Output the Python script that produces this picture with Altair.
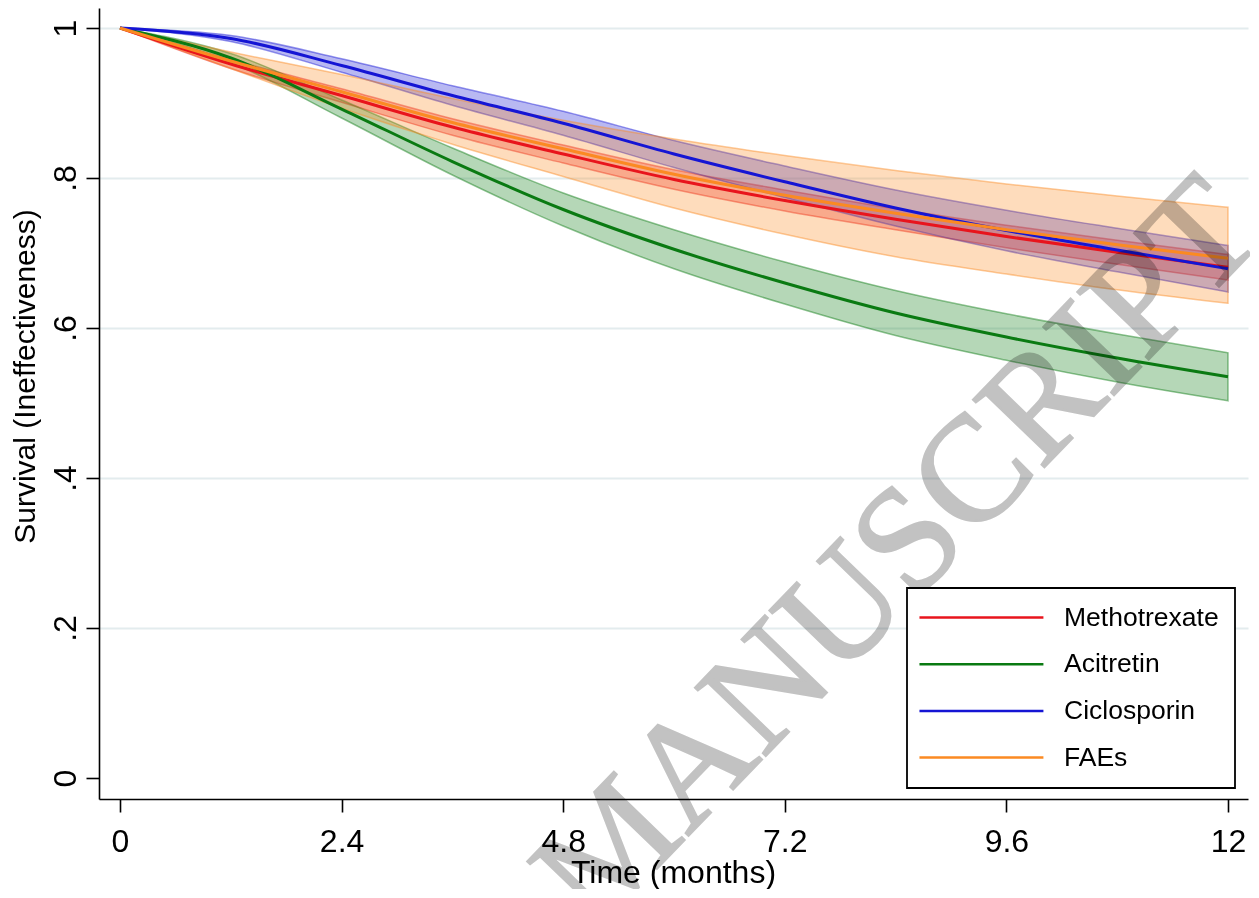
import altair as alt
import pandas as pd

# ---- data ----
time = [0, 1.2, 2.4, 3.6, 4.8, 6.0, 7.2, 8.4, 9.6, 10.8, 12.0]
drugs = ["Methotrexate", "Acitretin", "Ciclosporin", "FAEs"]
line_colors = ["#e8141c", "#0a7a12", "#1515d4", "#fb8a22"]

mtx_est = [1.000, 0.952, 0.910, 0.868, 0.832, 0.798, 0.770, 0.745, 0.722, 0.701, 0.681]
mtx_lo = [1.000, 0.946, 0.901, 0.857, 0.820, 0.785, 0.756, 0.731, 0.707, 0.685, 0.664]
mtx_hi = [1.000, 0.958, 0.919, 0.879, 0.844, 0.811, 0.784, 0.759, 0.737, 0.717, 0.698]

aci_est = [1.000, 0.960, 0.892, 0.822, 0.758, 0.705, 0.660, 0.620, 0.588, 0.560, 0.535]
aci_lo = [1.000, 0.954, 0.880, 0.804, 0.736, 0.679, 0.632, 0.590, 0.557, 0.528, 0.503]
aci_hi = [1.000, 0.966, 0.904, 0.840, 0.780, 0.731, 0.688, 0.650, 0.619, 0.592, 0.567]

cic_est = [1.000, 0.986, 0.950, 0.910, 0.873, 0.832, 0.795, 0.760, 0.730, 0.704, 0.679]
cic_lo = [1.000, 0.982, 0.941, 0.897, 0.857, 0.814, 0.774, 0.736, 0.703, 0.675, 0.648]
cic_hi = [1.000, 0.990, 0.959, 0.923, 0.889, 0.850, 0.816, 0.784, 0.757, 0.733, 0.710]

fae_est = [1.000, 0.956, 0.915, 0.874, 0.839, 0.805, 0.777, 0.753, 0.731, 0.711, 0.693]
fae_lo = [1.000, 0.946, 0.893, 0.845, 0.802, 0.760, 0.725, 0.695, 0.672, 0.651, 0.633]
fae_hi = [1.000, 0.968, 0.938, 0.906, 0.877, 0.852, 0.830, 0.810, 0.792, 0.776, 0.761]

x_ticks = [0, 2.4, 4.8, 7.2, 9.6, 12]
y_ticks = [0, 0.2, 0.4, 0.6, 0.8, 1]

series = {
    "Methotrexate": (mtx_est, mtx_lo, mtx_hi),
    "Acitretin": (aci_est, aci_lo, aci_hi),
    "Ciclosporin": (cic_est, cic_lo, cic_hi),
    "FAEs": (fae_est, fae_lo, fae_hi),
}
rows = []
for i, d in enumerate(drugs):
    est, lo, hi = series[d]
    for t, e, l, h in zip(time, est, lo, hi):
        rows.append({"drug": d, "order": i, "t": t, "est": e, "lo": l, "hi": h})
df = pd.DataFrame(rows)

FONT = "Liberation Sans"

xscale = alt.Scale(domain=[-0.2274, 12.2166], nice=False, zero=False)
yscale = alt.Scale(domain=[-0.028, 1.0267], nice=False, zero=False)

xaxis = alt.Axis(
    values=x_ticks, format=".1~f", title="Time (months)", grid=False,
    domainColor="black", domainWidth=1.6, tickColor="black", tickWidth=1.6,
    tickSize=13, labelFont=FONT, labelFontSize=32, labelColor="black",
    labelBaseline="alphabetic", labelPadding=39, labelFlush=False,
    labelOverlap=False, titleFont=FONT, titleFontSize=32,
    titleFontWeight="normal", titleColor="black", titleBaseline="alphabetic",
    titleY=83, titleX=574,
)
yaxis = alt.Axis(
    values=y_ticks,
    labelExpr="datum.value == 0 ? '0' : datum.value == 1 ? '1' : '.' + round(datum.value * 10)",
    title="Survival (Ineffectiveness)", grid=True,
    gridColor={"condition": {"test": "datum.value === 0", "value": "transparent"}, "value": "#e3ecee"},
    gridWidth=2,
    domainColor="black", domainWidth=1.6, tickColor="black", tickWidth=1.6,
    tickSize=13, labelFont=FONT, labelFontSize=32, labelColor="black",
    labelAngle=270, labelAlign="center", labelBaseline="alphabetic",
    labelPadding=11, labelFlush=False, labelOverlap=False,
    titleFont=FONT, titleFontSize=30, titleFontWeight="normal",
    titleColor="black", titleAngle=270, titleAlign="center",
    titleBaseline="alphabetic", titleX=-65, titleY=368,
)

color_scale = alt.Scale(domain=drugs, range=line_colors)
legend = alt.Legend(
    title=None, orient="none", legendX=808, legendY=580,
    symbolType="M-1.42,0H8.91", symbolSize=576, symbolStrokeWidth=2.5,
    symbolFillColor="transparent",
    labelFont=FONT, labelFontSize=26.5, labelColor="black",
    labelOffset=114, labelLimit=400, rowPadding=19.7, padding=16,
    strokeColor="black", fillColor="white",
)

bands = alt.Chart(df).mark_area(
    interpolate="monotone", fillOpacity=0.3, strokeOpacity=0.45, strokeWidth=1.5
).encode(
    x=alt.X("t:Q", scale=xscale, axis=xaxis),
    y=alt.Y("lo:Q", scale=yscale, axis=yaxis),
    y2="hi:Q",
    color=alt.Color("drug:N", scale=color_scale, legend=legend),
    stroke=alt.Stroke("drug:N", scale=color_scale, legend=None),
    order=alt.Order("order:Q"),
)

lines = alt.Chart(df).mark_line(interpolate="monotone", strokeWidth=3).encode(
    x=alt.X("t:Q", scale=xscale, axis=xaxis),
    y=alt.Y("est:Q", scale=yscale, axis=yaxis),
    color=alt.Color("drug:N", scale=color_scale, legend=legend),
)

wm_df = pd.DataFrame({"label": ["MANUSCRIPT"], "t": [8.43], "s": [0.299]})
watermark = alt.Chart(wm_df).mark_text(
    font="Liberation Serif", fontSize=150, angle=314, color="#c2c2c2",
    stroke="#c2c2c2", strokeWidth=2.2,
    blend="multiply", align="center", baseline="middle",
).encode(
    x=alt.X("t:Q", scale=xscale, axis=xaxis),
    y=alt.Y("s:Q", scale=yscale, axis=yaxis),
    text="label:N",
)

chart = alt.layer(bands, lines, watermark).properties(
    width=1149, height=791,
    autosize=alt.AutoSizeParams(type="none"),
    padding={"left": 91, "top": 0, "right": 2, "bottom": 90},
    background="white",
).configure_view(stroke=None).configure_legend(strokeWidth=1.8)

chart.save("out.html", embed_options={"renderer": "svg", "actions": False})
